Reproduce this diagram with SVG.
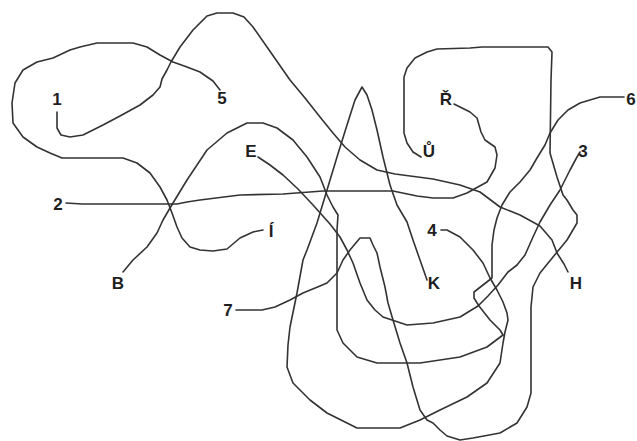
<svg xmlns="http://www.w3.org/2000/svg" width="637" height="441" viewBox="0 0 637 441">
<style>
.ln{fill:none;stroke:#333;stroke-width:1.6;stroke-linejoin:round;stroke-linecap:round}
.lb{font-family:"Liberation Sans",Arial,sans-serif;font-weight:bold;font-size:17px;fill:#1e1e1e;text-anchor:middle}
</style>
<rect width="637" height="441" fill="#fff"/>
<g id="connectors">
<path id="line-1-H" class="ln" d="M57,112 L57,128 L61,135 L70,137 L83,135 L103,125 L120,116 L140,105 L153,95 L160,87 L162,79 L167,70 L171,62 L180,47 L193,30 L207,16 L217,13 L233,13 L244,17 L253,27 L267,47 L290,80 L305,98 L320,117 L333,133 L345,147 L360,160 L377,170 L395,174 L433,179 L460,185 L480,192 L500,207 L520,215 L540,226 L552,240 L557,253 L564,264 L568,272"/>
<path id="line-5-I" class="ln" d="M220,90 L213,81 L200,72 L187,67 L173,62 L160,55 L147,47 L133,43 L97,43 L80,47 L70,50 L53,58 L37,62 L23,70 L15,83 L12,103 L13,123 L23,137 L37,147 L50,153 L62,158 L123,158 L137,163 L150,173 L160,187 L167,200 L172,213 L177,227 L182,238 L190,247 L200,250 L213,251 L227,249 L240,238 L253,232 L263,230"/>
<path id="line-2-R" class="ln" d="M66,203 L82,204 L177,204 L187,202 L200,200 L240,195 L283,194 L323,191 L393,191 L417,196 L433,198 L453,198 L467,193 L487,182 L495,168 L497,155 L495,147 L485,140 L481,132 L477,118 L470,112 L460,107 L454,104"/>
<path id="line-7-U" class="ln" d="M236,310 L262,310 L275,307 L290,300 L303,293 L320,286 L327,283 L333,277 L337,273 L343,260 L350,250 L360,238 L370,238 L373,245 L377,253 L380,267 L385,287 L388,303 L393,320 L400,343 L407,363 L413,387 L420,410 L427,420 L433,423 L440,430 L447,436 L460,440 L473,438 L500,433 L517,423 L527,407 L531,393 L531,307 L533,287 L540,273 L553,257 L567,240 L577,223 L577,215 L573,210 L567,200 L563,195 L557,177 L550,153 L551,80 L552,52 L548,47 L482,47 L470,48 L437,49 L427,52 L415,58 L407,68 L404,77 L404,133 L407,143 L413,152 L421,157"/>
<path id="line-4-K" class="ln" d="M441,230 L447,230 L460,237 L473,250 L483,263 L490,278 L497,290 L503,302 L507,313 L508,320 L505,332 L503,343 L500,363 L487,383 L467,397 L440,410 L420,420 L400,428 L357,428 L327,413 L310,400 L293,383 L287,367 L288,345 L290,327 L297,293 L303,260 L307,250 L317,223 L327,190 L337,157 L347,125 L355,100 L362,87 L367,95 L372,110 L377,130 L383,157 L390,185 L397,205 L407,222 L413,240 L420,260 L427,280"/>
<path id="line-E-3" class="ln" d="M258,157 L270,165 L283,175 L298,189 L313,205 L322,215 L330,224 L340,237 L347,250 L353,263 L360,283 L367,300 L375,310 L383,317 L407,325 L433,323 L460,317 L478,306 L488,296 L498,285 L508,272 L517,265 L525,255 L533,237 L540,222 L550,205 L560,190 L570,170 L577,157 L580,152"/>
<path id="line-6" class="ln" d="M624,97 L600,97 L590,100 L580,103 L568,110 L558,120 L550,133 L545,145 L537,158 L530,170 L520,182 L510,192 L502,205 L497,218 L494,230 L492,245 L492,278 L474,292 L474,298 L479,306 L490,320 L500,330 L503,335"/>
<path id="line-B" class="ln" d="M123,272 L133,260 L147,247 L157,233 L163,220 L170,208 L187,180 L207,150 L227,133 L247,123 L263,123 L277,128 L293,140 L307,157 L320,177 L327,195 L333,207 L338,215 L337,230 L337,330 L343,343 L357,357 L377,363 L420,363 L460,357 L487,347 L503,335"/>
</g>
<g id="labels">
<g id="n1"><text class="lb" x="57" y="105">1</text></g>
<g id="n5"><text class="lb" x="222" y="104">5</text></g>
<g id="n2"><text class="lb" x="58" y="210">2</text></g>
<g id="nE"><text class="lb" x="251" y="157">E</text></g>
<g id="nI"><text class="lb" x="271" y="237">Í</text></g>
<g id="nB"><text class="lb" x="118" y="289">B</text></g>
<g id="n7"><text class="lb" x="228" y="316">7</text></g>
<g id="nR"><text class="lb" x="446" y="105">Ř</text></g>
<g id="nU"><text class="lb" x="429" y="157">Ů</text></g>
<g id="n4"><text class="lb" x="432" y="236">4</text></g>
<g id="nK"><text class="lb" x="434" y="289">K</text></g>
<g id="nH"><text class="lb" x="576" y="289">H</text></g>
<g id="n6"><text class="lb" x="631" y="105">6</text></g>
<g id="n3"><text class="lb" x="583" y="157">3</text></g>
</g>
</svg>
